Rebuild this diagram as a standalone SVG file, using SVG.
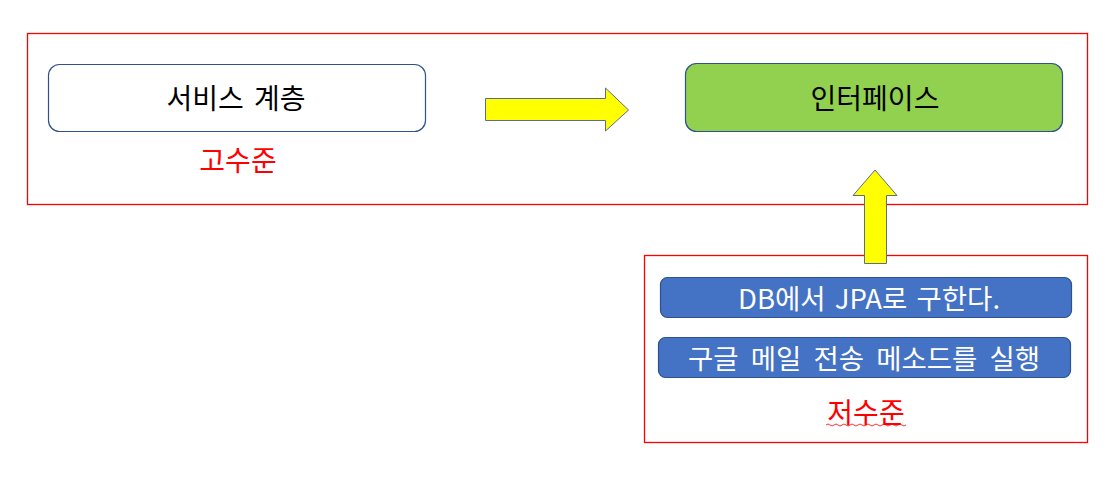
<svg xmlns="http://www.w3.org/2000/svg" width="1119" height="477" viewBox="0 0 1119 477">
<style>
.frame{fill:none;stroke:#FF0000;stroke-width:1.3}
.node{stroke:#2F528F;stroke-width:1.2}
.t{font-family:"Malgun Gothic","Noto Sans CJK KR",sans-serif;text-anchor:middle;dominant-baseline:central}
.big{font-size:28px;fill:#000}
.red{font-size:28px;fill:#FF0000}
.wt{font-size:27.5px;fill:#FFFFFF}
.arrow{fill:#FFFF00;stroke:#5A6E8C;stroke-width:1}
</style>
<rect width="1119" height="477" fill="#FFFFFF"/>
<g id="high-level">
<rect class="frame" x="27.5" y="33.5" width="1060" height="171"/>
<text class="t red" x="238" y="159">고수준</text>
</g>
<g id="low-level">
<rect class="frame" x="644.5" y="255.5" width="443" height="187"/>
<text class="t red" x="866" y="411">저수준</text>
<path d="M826,425 q2,-2 4,0 t4,0 t4,0 t4,0 t4,0 t4,0 t4,0 t4,0 t4,0 t4,0 t4,0 t4,0 t4,0 t4,0 t4,0 t4,0 t4,0 t4,0 t4,0 t4,0" fill="none" stroke="#FF0000" stroke-width="0.8"/>
</g>
<g id="service">
<rect class="node" x="48.5" y="64.5" width="377" height="67" rx="11" fill="#FFFFFF"/>
<text class="t big" x="236" y="97" word-spacing="4">서비스 계층</text>
</g>
<g id="interface">
<rect class="node" x="685.5" y="63.5" width="377" height="68" rx="11" fill="#92D050"/>
<text class="t big" x="875" y="97">인터페이스</text>
</g>
<g id="db">
<rect class="node" x="660.5" y="277.5" width="411" height="40" rx="7" fill="#4472C4"/>
<text class="t wt" x="869" y="297" word-spacing="3">DB에서 JPA로 구한다.</text>
</g>
<g id="mail">
<rect class="node" x="658.5" y="337.5" width="412" height="40" rx="7" fill="#4472C4"/>
<text class="t wt" x="864" y="357" word-spacing="6">구글 메일 전송 메소드를 실행</text>
</g>
<g id="connectors">
<path class="arrow" d="M485.5,98.5 H605.5 V88 L628.5,110 L605.5,131 V120.5 H485.5 Z"/>
<path class="arrow" d="M864.5,263.5 V195.5 H853 L875,170 L897,195.5 H886.5 V263.5 Z"/>
</g>
</svg>
